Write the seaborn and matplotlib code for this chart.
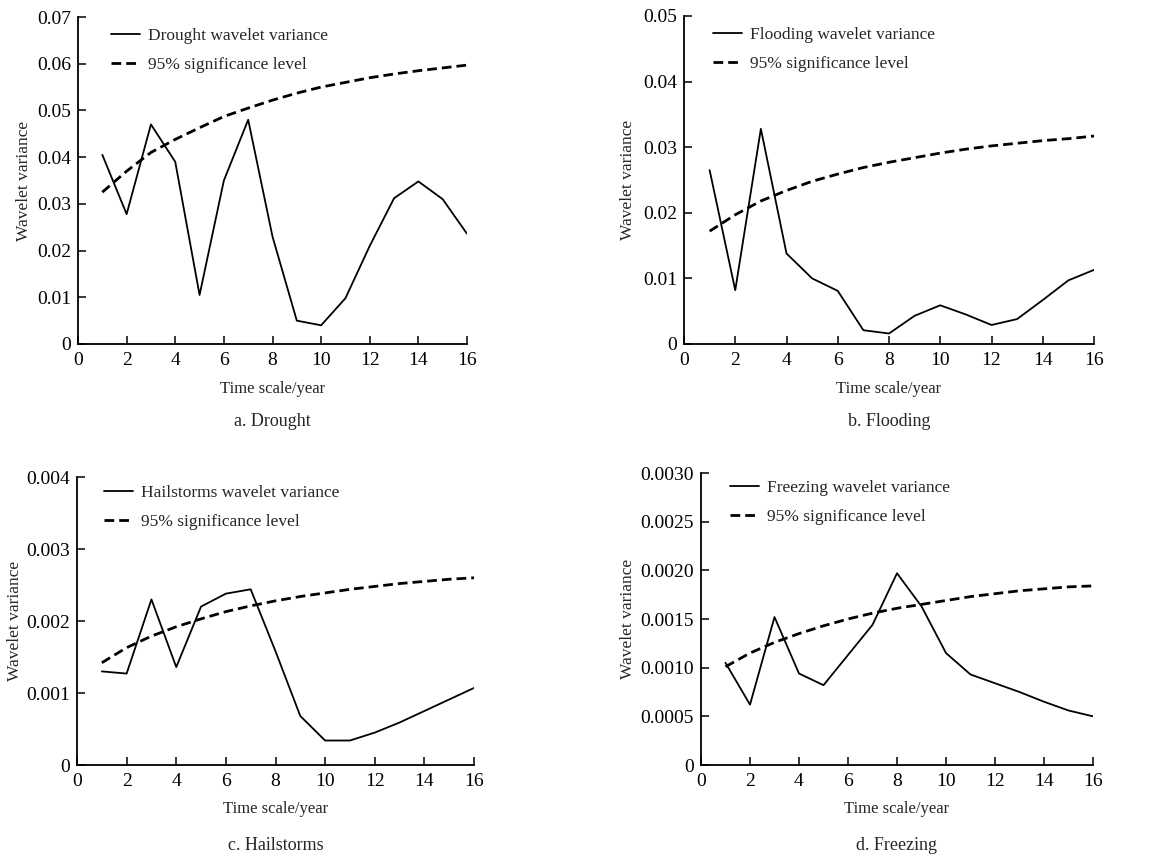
import pandas as pd
import numpy as np
import seaborn as sns
import matplotlib.pyplot as plt

scales = list(range(1, 17))

drought_var = [0.0405, 0.0278, 0.0470, 0.0390, 0.0105, 0.0350, 0.0480, 0.0230,
               0.0050, 0.0040, 0.0098, 0.0210, 0.0312, 0.0348, 0.0310, 0.0236]
drought_sig = [0.0325, 0.0370, 0.0410, 0.0438, 0.0463, 0.0487, 0.0505, 0.0522,
               0.0537, 0.0550, 0.0560, 0.0570, 0.0578, 0.0585, 0.0591, 0.0597]

flood_var = [0.0265, 0.0082, 0.0328, 0.0138, 0.0100, 0.0081, 0.0021, 0.0016,
             0.0043, 0.0059, 0.0045, 0.0029, 0.0038, 0.0067, 0.0097, 0.0113]
flood_sig = [0.0172, 0.0197, 0.0218, 0.0234, 0.0248, 0.0259, 0.0269, 0.0277,
             0.0284, 0.0291, 0.0297, 0.0302, 0.0306, 0.0310, 0.0313, 0.0317]

hail_var = [0.00130, 0.00127, 0.00230, 0.00136, 0.00220, 0.00238, 0.00244, 0.00158,
            0.00068, 0.00034, 0.00034, 0.00045, 0.00059, 0.00075, 0.00091, 0.00107]
hail_sig = [0.00142, 0.00163, 0.00179, 0.00192, 0.00203, 0.00213, 0.00221, 0.00228,
            0.00234, 0.00239, 0.00244, 0.00248, 0.00252, 0.00255, 0.00258, 0.00260]

freeze_var = [0.00105, 0.00062, 0.00152, 0.00094, 0.00082, 0.00113, 0.00144, 0.00197,
              0.00163, 0.00115, 0.00093, 0.00084, 0.00075, 0.00065, 0.00056, 0.00050]
freeze_sig = [0.00101, 0.00115, 0.00126, 0.00135, 0.00143, 0.00150, 0.00156, 0.00161,
              0.00165, 0.00169, 0.00173, 0.00176, 0.00179, 0.00181, 0.00183, 0.00184]

panels = [
    ("Drought", "a. Drought", drought_var, drought_sig, 0.07, 0.01,
     ["0", "0.01", "0.02", "0.03", "0.04", "0.05", "0.06", "0.07"]),
    ("Flooding", "b. Flooding", flood_var, flood_sig, 0.05, 0.01,
     ["0", "0.01", "0.02", "0.03", "0.04", "0.05"]),
    ("Hailstorms", "c. Hailstorms", hail_var, hail_sig, 0.004, 0.001,
     ["0", "0.001", "0.002", "0.003", "0.004"]),
    ("Freezing", "d. Freezing", freeze_var, freeze_sig, 0.003, 0.0005,
     ["0", "0.0005", "0.0010", "0.0015", "0.0020", "0.0025", "0.0030"]),
]

# layout in pixels: axes box (left, top, right, bottom), ylabel x,
# xlabel y, caption y, legend anchor (x, y)
layout = [
    ((78, 17, 467, 344), 24, 389, 421, (111, 28)),
    ((684, 16, 1094, 344), 628, 389, 421, (713, 27)),
    ((77, 477, 474, 765), 15, 809, 845, (104, 485)),
    ((701, 473, 1093, 765), 628, 809, 845, (730, 480)),
]

sns.set_style("ticks")
plt.rcParams['font.family'] = ['Liberation Serif', 'DejaVu Serif']

W, H = 1169, 856
fig = plt.figure(figsize=(W / 100, H / 100), dpi=100)

for (name, caption, var, sig, ymax, ystep, ylabels), (box, ylx, xly, capy, lg) in zip(panels, layout):
    l, t, r, b = box
    ax = fig.add_axes([l / W, 1 - b / H, (r - l) / W, (b - t) / H])
    df = pd.DataFrame({"scale": scales, "var": var, "sig": sig})
    sns.lineplot(data=df, x="scale", y="var", ax=ax, color="black", lw=1.3,
                 label=f"{name} wavelet variance")
    sns.lineplot(data=df, x="scale", y="sig", ax=ax, color="black", lw=2.0,
                 linestyle=(0, (3.5, 1.8)), label="95% significance level")
    ax.set_xlim(0, 16)
    ax.set_ylim(0, ymax)
    ax.set_xticks(range(0, 17, 2))
    ax.set_yticks(np.arange(len(ylabels)) * ystep)
    ax.set_yticklabels(ylabels)
    ax.tick_params(direction="in", length=6, width=1.1, labelsize=14, colors="black")
    ax.tick_params(axis="x", pad=6)
    ax.tick_params(axis="y", pad=5)
    for s in ["top", "right"]:
        ax.spines[s].set_visible(False)
    for s in ["left", "bottom"]:
        ax.spines[s].set_linewidth(1.3)
        ax.spines[s].set_color("black")
    ax.set_xlabel("")
    ax.set_ylabel("")
    fig.text(ylx / W, 1 - (t + b) / 2 / H, "Wavelet variance", rotation=90,
             ha="center", va="center", fontsize=12.5)
    fig.text((l + r) / 2 / W, 1 - xly / H, "Time scale/year",
             ha="center", va="center", fontsize=12)
    fig.text((l + r) / 2 / W, 1 - capy / H, caption,
             ha="center", va="center", fontsize=13)
    ax.legend(loc="upper left", frameon=False, fontsize=12.5,
              bbox_to_anchor=(lg[0] / W, 1 - lg[1] / H), bbox_transform=fig.transFigure,
              borderpad=0, borderaxespad=0, handlelength=1.65, handletextpad=0.5,
              labelspacing=0.75)

fig.savefig("out.png", dpi=100, facecolor="white")
